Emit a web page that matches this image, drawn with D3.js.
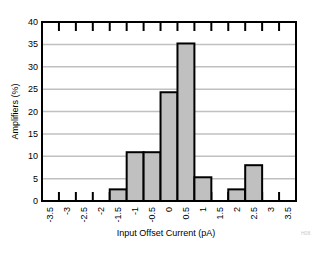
<!DOCTYPE html>
<html>
<head>
<meta charset="UTF-8">
<style>
    body { margin: 0; background: #fff; }
    text { font-family: "Liberation Sans", Arial, sans-serif; fill: #000; }
    .grid { stroke: #c0c0c0; stroke-width: 1.5px; }
    .bar { fill: #c0c0c0; stroke: #000; stroke-width: 2px; }
    .tick { stroke: #000; stroke-width: 2px; }
    .frame { fill: none; stroke: #000; stroke-width: 2px; }
</style>
</head>
<body>
<script src="https://d3js.org/d3.v7.min.js"></script>
<svg id="chart" width="329" height="260"></svg>
<script>
    // bin labels (pA) and share of amplifiers (%)
    var bins = ["-3.5", "-3", "-2.5", "-2", "-1.5", "-1", "-0.5", "0", "0.5", "1", "1.5", "2", "2.5", "3", "3.5"];
    var percent = [0, 0, 0, 0, 2.6, 10.9, 10.9, 24.3, 35.2, 5.3, 0, 2.6, 8.0, 0, 0];
    var yTicks = [0, 5, 10, 15, 20, 25, 30, 35, 40];

    var svg = d3.select("#chart"),
        pLeft = 42, pRight = 296, pTop = 22, pBottom = 201;

    var x = d3.scaleBand().domain(bins).range([pLeft, pRight]).padding(0);
    var y = d3.scaleLinear().domain([0, 40]).range([pBottom, pTop]);

    // horizontal grid
    svg.selectAll(".grid")
        .data(yTicks.slice(1, -1))
        .enter().append("line")
        .attr("class", "grid")
        .attr("x1", pLeft).attr("x2", pRight)
        .attr("y1", d => y(d)).attr("y2", d => y(d));

    // short ticks at bin boundaries, top and bottom
    var edges = bins.slice(1).map(b => x(b));
    edges.forEach(function (e) {
        svg.append("line").attr("class", "tick")
            .attr("x1", e).attr("x2", e).attr("y1", pTop).attr("y2", pTop + 9);
        svg.append("line").attr("class", "tick")
            .attr("x1", e).attr("x2", e).attr("y1", pBottom).attr("y2", pBottom - 9);
    });

    // bars
    svg.selectAll(".bar")
        .data(bins.map((b, i) => ({ bin: b, v: percent[i] })).filter(d => d.v > 0))
        .enter().append("rect")
        .attr("class", "bar")
        .attr("x", d => x(d.bin))
        .attr("width", x.bandwidth())
        .attr("y", d => y(d.v))
        .attr("height", d => pBottom - y(d.v));

    svg.append("rect").attr("class", "frame")
        .attr("x", pLeft).attr("y", pTop)
        .attr("width", pRight - pLeft).attr("height", pBottom - pTop);

    // y tick labels
    svg.selectAll(".ylab")
        .data(yTicks)
        .enter().append("text")
        .attr("x", pLeft - 4)
        .attr("y", d => y(d) + 3)
        .attr("text-anchor", "end")
        .style("font-size", "9px")
        .text(d => d);

    // x tick labels, rotated
    svg.selectAll(".xlab")
        .data(bins)
        .enter().append("text")
        .attr("transform", d => "translate(" + (x(d) + x.bandwidth() / 2 + 3) + "," + (pBottom + 6) + ") rotate(-90)")
        .attr("text-anchor", "end")
        .style("font-size", "9px")
        .text(d => d);

    svg.append("text")
        .attr("x", 166).attr("y", 236)
        .attr("text-anchor", "middle")
        .style("font-size", "9px")
        .text("Input Offset Current (pA)");

    svg.append("text")
        .attr("transform", "translate(18," + ((pTop + pBottom) / 2) + ") rotate(-90)")
        .attr("text-anchor", "middle")
        .style("font-size", "9px")
        .text("Amplifiers (%)");

    svg.append("text")
        .attr("x", 301).attr("y", 235)
        .style("font-size", "5px")
        .style("fill", "#c8c8c8")
        .text("H08");
</script>
</body>
</html>
